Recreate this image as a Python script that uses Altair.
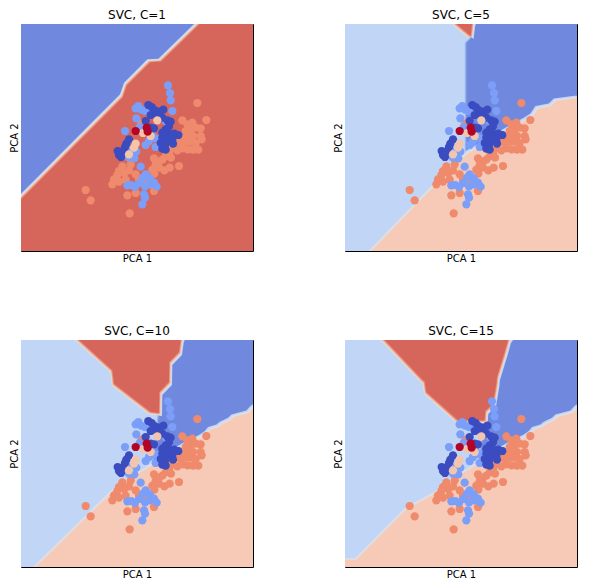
import altair as alt
import pandas as pd

# ---------------- values (picture units: x 6..702, y 9..690, y grows downward)
TITLES = ["SVC, C=1", "SVC, C=5", "SVC, C=10", "SVC, C=15"]
X_DOMAIN = [6, 702]
Y_DOMAIN = [9, 690]

# scatter points by class
C0_X = [388, 398, 408, 420, 433, 395, 412, 430, 445, 455, 450, 440, 430, 445, 456, 466, 478, 430, 445, 425,
        438, 430, 440, 460, 462, 380, 395, 405, 330, 322, 318, 312, 296, 300, 306]
C0_Y = [252, 258, 268, 272, 266, 282, 282, 290, 298, 302, 316, 325, 335, 335, 340, 338, 342, 350, 356, 366,
        372, 383, 386, 356, 368, 300, 320, 322, 355, 368, 378, 390, 390, 402, 408]
C1_X = [447, 453, 455, 460, 350, 358, 366, 378, 386, 352, 318, 362, 440, 398, 410, 390, 380, 410, 352, 340,
        330, 346, 365, 380, 372, 392, 325, 337, 348, 360, 378, 392, 405, 413, 375, 378, 370]
C1_Y = [193, 216, 238, 270, 262, 255, 266, 270, 262, 292, 330, 318, 300, 342, 352, 360, 372, 378, 392, 386,
        410, 412, 437, 460, 470, 472, 493, 492, 498, 486, 496, 490, 485, 497, 520, 530, 550]
C2_X = [415, 350, 345, 395, 372, 330]
C2_Y = [298, 368, 380, 345, 336, 400]
C3_X = [535, 562, 490, 505, 520, 515, 530, 545, 500, 545, 522, 505, 490, 478, 470, 485, 500, 515, 530, 548,
        538, 522, 506, 490, 475, 460, 450, 440, 456, 430, 420, 405, 410, 400, 420, 436, 452, 480, 406, 335,
        310, 300, 295, 316, 330, 350, 285, 280, 300, 320, 360, 375, 405, 350, 325, 200, 215, 332, 367, 452]
C3_Y = [246, 297, 298, 310, 305, 325, 320, 322, 330, 345, 345, 347, 352, 342, 362, 366, 362, 362, 366, 355,
        386, 386, 385, 382, 388, 382, 396, 406, 410, 416, 422, 412, 432, 446, 440, 448, 440, 435, 458, 430,
        436, 450, 462, 456, 448, 460, 475, 490, 482, 476, 476, 482, 510, 516, 523, 507, 538, 577, 308, 348]
C4_X = [350, 383, 386]
C4_Y = [330, 320, 332]

# decision-region boundaries
P1_BLUE_X = [-10, 6, 303, 315, 385, 418, 525, 545]
P1_BLUE_Y = [534, 518, 220, 185, 115, 113, 9, -11]

P2_PEACH_X = [70, 85, 300, 335, 375, 440, 500, 550, 570, 585, 625, 640, 702, 730]
P2_PEACH_Y = [705, 690, 468, 432, 398, 360, 325, 298, 285, 263, 255, 240, 232, 232]
P2_MID_Y = [-20, 9, 50, 65, 400]
P2_MID_X = [400, 398, 385, 370, 370]
P2_RED_X = [330, 340, 383, 387, 390]
P2_RED_Y = [-3, 9, 45, 9, -3]

P3_PEACH_X = [35, 50, 280, 330, 375, 440, 500, 550, 565, 575, 600, 610, 635, 645, 690, 702, 730]
P3_PEACH_Y = [705, 690, 465, 425, 400, 360, 325, 300, 290, 278, 270, 262, 250, 240, 228, 215, 195]
P3_MID_Y = [-20, 228, 250, 400]
P3_MID_X = [440, 420, 418, 400]
P3_RED_X = [170, 180, 275, 280, 285, 395, 420, 421, 450, 451, 480, 485, 490]
P3_RED_Y = [-5, 9, 95, 100, 140, 225, 228, 165, 135, 75, 45, 9, -5]

P4_PEACH_X = [-20, 40, 195, 215, 280, 330, 375, 440, 500, 550, 565, 575, 600, 610, 635, 645, 690, 702, 730]
P4_PEACH_Y = [668, 668, 512, 503, 468, 425, 400, 360, 325, 300, 290, 278, 270, 262, 250, 240, 228, 215, 195]
P4_MID_Y = [-20, 250, 400]
P4_MID_X = [505, 428, 405]
P4_RED_X = [110, 125, 240, 245, 250, 345, 425, 427, 450, 460, 462, 485, 495, 505]
P4_RED_Y = [-5, 9, 130, 133, 165, 250, 250, 222, 200, 140, 120, 45, 9, -5]

# ---------------- styles
PT_COLORS = ["#3b4cc0", "#7b9ff9", "#f4c5ad", "#ef8a6c", "#b40426"]
R_BLUE = "#7089df"
R_LIGHT = "#c1d5f7"
R_PEACH = "#f6cab7"
R_RED = "#d6655c"
B_MID = "#9ab3ee"
B_WHITE = "#dfdfe2"
B_PEACH = "#f2bea7"
B_SALMON = "#e8937c"

xs = alt.Scale(domain=X_DOMAIN, nice=False, zero=False)
ys = alt.Scale(domain=Y_DOMAIN, reverse=True, nice=False, zero=False)


def X(f):
    return alt.X(f, type="quantitative", scale=xs, title="PCA 1")


def Y(f):
    return alt.Y(f, type="quantitative", scale=ys, title="PCA 2")


def rect(color):
    df = pd.DataFrame({"x": [-20], "x2": [730], "y": [-20], "y2": [720]})
    return alt.Chart(df).mark_rect(color=color, clip=True).encode(
        x=X("x"), x2=alt.X2("x2"), y=Y("y"), y2=alt.Y2("y2"))


def varea(xv, yv, edge, color, dx=0, dy=0):
    df = pd.DataFrame({"x": xv, "y": yv, "e": [edge] * len(xv)})
    return alt.Chart(df).mark_area(color=color, clip=True, orient="vertical", opacity=1,
                                   xOffset=dx, yOffset=dy, y2Offset=dy).encode(
        x=X("x"), y=Y("y"), y2=alt.Y2("e"))


def harea(yv, xv, edge, color, dx=0):
    df = pd.DataFrame({"y": yv, "x": xv, "e": [edge] * len(yv)})
    return alt.Chart(df).mark_area(color=color, clip=True, orient="horizontal", opacity=1,
                                   xOffset=dx, x2Offset=dx).encode(
        y=Y("y"), x=X("x"), x2=alt.X2("e"))


def points():
    rows = []
    for cls, (xv, yv) in [(3, (C3_X, C3_Y)), (1, (C1_X, C1_Y)), (0, (C0_X, C0_Y)),
                          (2, (C2_X, C2_Y)), (4, (C4_X, C4_Y))]:
        for a, b in zip(xv, yv):
            rows.append({"x": a, "y": b, "cls": str(cls)})
    df = pd.DataFrame(rows)
    return alt.Chart(df).mark_circle(size=68, opacity=1, clip=True).encode(
        x=X("x"), y=Y("y"),
        color=alt.Color("cls:N", scale=alt.Scale(domain=["0", "1", "2", "3", "4"], range=PT_COLORS),
                        legend=None))


def red_layers(rx, ry):
    out = []
    for d, c in [(3, R_LIGHT), (2.2, B_WHITE), (1.5, B_PEACH), (0.8, B_SALMON)]:
        out.append(varea(rx, ry, -20, c, -d, d))
        out.append(varea(rx, ry, -20, c, d, d))
    out.append(varea(rx, ry, -20, R_RED))
    return out


def multi_panel(peach_x, peach_y, mid_y, mid_x, red_x, red_y, title):
    layers = [rect(R_LIGHT),
              harea(mid_y, mid_x, 730, B_MID, -1.5),
              harea(mid_y, mid_x, 730, R_BLUE),
              varea(peach_x, peach_y, 720, R_LIGHT, -2.6, -2.6),
              varea(peach_x, peach_y, 720, B_WHITE, -1.4, -1.4),
              varea(peach_x, peach_y, 720, R_PEACH)]
    layers += red_layers(red_x, red_y)
    layers.append(points())
    return alt.layer(*layers).properties(width=232, height=227, title=title)


p1_layers = [rect(R_RED)]
for d, c in [(2.8, B_SALMON), (2.1, B_PEACH), (1.4, B_WHITE), (0.7, R_LIGHT)]:
    p1_layers.append(varea(P1_BLUE_X, P1_BLUE_Y, -20, c, d, d))
p1_layers.append(varea(P1_BLUE_X, P1_BLUE_Y, -20, R_BLUE))
p1_layers.append(points())
p1 = alt.layer(*p1_layers).properties(width=232, height=227, title=TITLES[0])

p2 = multi_panel(P2_PEACH_X, P2_PEACH_Y, P2_MID_Y, P2_MID_X, P2_RED_X, P2_RED_Y, TITLES[1])
p3 = multi_panel(P3_PEACH_X, P3_PEACH_Y, P3_MID_Y, P3_MID_X, P3_RED_X, P3_RED_Y, TITLES[2])
p4 = multi_panel(P4_PEACH_X, P4_PEACH_Y, P4_MID_Y, P4_MID_X, P4_RED_X, P4_RED_Y, TITLES[3])

chart = alt.vconcat(
    alt.hconcat(p1, p2, spacing=78),
    alt.hconcat(p3, p4, spacing=78),
    spacing=60,
).properties(padding=0, background="white").configure_view(
    stroke="black", strokeWidth=1
).configure_axis(
    labels=False, ticks=False, domain=False, grid=False,
    titleFontSize=10, titleFont="DejaVu Sans", titleFontWeight="normal",
    titleColor="black", titlePadding=2
).configure_title(
    fontSize=12, font="DejaVu Sans", fontWeight="normal", color="black", offset=2, anchor="middle"
)

chart.save("out.html", embed_options={"renderer": "svg", "actions": False})
